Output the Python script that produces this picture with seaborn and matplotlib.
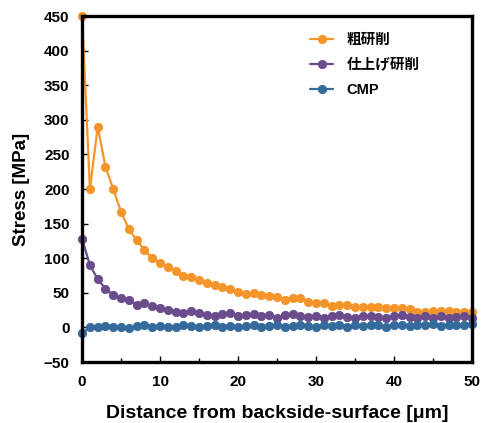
"""Residual stress vs depth from backside surface for three thinning steps."""

import matplotlib

matplotlib.use("Agg")

import matplotlib.pyplot as plt
import pandas as pd
import seaborn as sns

# distance from backside surface [um]
distance = list(range(51))

rough_grind = [
    450, 200, 290, 232, 200, 167, 142, 126, 112, 100,
    93, 87, 81, 75, 73, 68, 64, 61, 58, 55,
    51, 48, 50, 47, 46, 44, 40, 42, 42, 37,
    36, 35, 31, 33, 32, 30, 29, 30, 29, 28,
    28, 28, 27, 22, 23, 24, 24, 24, 23, 22,
    22,
]
finish_grind = [
    128, 90, 70, 56, 47, 42, 39, 32, 35, 31,
    28, 25, 23, 21, 24, 21, 18, 16, 20, 21,
    16, 18, 20, 17, 18, 14, 18, 19, 16, 15,
    17, 14, 16, 18, 15, 13, 16, 17, 15, 14,
    17, 18, 15, 13, 16, 14, 17, 13, 15, 16,
    14,
]
cmp_polish = [
    -8, 0, 1, 2, 0, 1, -1, 2, 3, 1,
    2, 0, 1, 3, 2, 1, 2, 3, 1, 2,
    0, 2, 3, 1, 2, 3, 1, 2, 4, 2,
    0, 3, 2, 4, 1, 3, 2, 4, 3, 1,
    3, 4, 2, 4, 3, 5, 2, 4, 3, 4,
    5,
]

series_names = ["粗研削", "仕上げ研削", "CMP"]
series_colors = ["#F4952B", "#6A4C8C", "#356A9C"]
y_ticks = [-50, 0, 50, 100, 150, 200, 250, 300, 350, 400, 450]
x_ticks = [0, 10, 20, 30, 40, 50]

frames = []
for name, values in zip(series_names, [rough_grind, finish_grind, cmp_polish]):
    frames.append(pd.DataFrame({"distance": distance, "stress": values, "process": name}))
data = pd.concat(frames, ignore_index=True)

sns.set_style("white")
plt.rcParams["font.family"] = ["Liberation Sans", "Noto Sans CJK JP", "DejaVu Sans"]
plt.rcParams["font.weight"] = "bold"
plt.rcParams["text.color"] = "black"
plt.rcParams["axes.labelcolor"] = "black"
plt.rcParams["xtick.color"] = "black"
plt.rcParams["ytick.color"] = "black"

fig = plt.figure(figsize=(4.83, 4.23), dpi=100)
ax = fig.add_axes([0.170, 0.144, 0.807, 0.818])

sns.lineplot(
    data=data,
    x="distance",
    y="stress",
    hue="process",
    hue_order=series_names,
    palette=series_colors,
    marker="o",
    markersize=6,
    markeredgewidth=0.6,
    linewidth=1.6,
    ax=ax,
)
for line in ax.lines:
    line.set_clip_on(False)
    line.set_markeredgecolor(line.get_color())

ax.set_xlim(0, 50)
ax.set_ylim(-50, 450)
ax.set_xticks(x_ticks)
ax.set_xticks(range(5, 50, 10), minor=True)
ax.set_yticks(y_ticks)
ax.tick_params(axis="both", which="both", direction="in", length=4, width=1,
               labelsize=11, pad=9, bottom=True, left=True)
ax.tick_params(axis="x", which="minor", length=3)
for label in ax.get_xticklabels() + ax.get_yticklabels():
    label.set_fontweight("bold")

for spine in ax.spines.values():
    spine.set_linewidth(2.4)
    spine.set_color("black")

ax.set_xlabel("Distance from backside-surface [μm]", fontsize=14, fontweight="bold", labelpad=12)
ax.set_ylabel("Stress [MPa]", fontsize=13.5, fontweight="bold", labelpad=10)

ax.legend(
    loc="upper left",
    bbox_to_anchor=(0.585, 0.952),
    frameon=False,
    borderpad=0,
    borderaxespad=0,
    handlelength=1.6,
    handletextpad=0.9,
    labelspacing=0.75,
    prop={"size": 10.5, "weight": "bold"},
)

fig.savefig("out.png", dpi=100)
plt.close(fig)
